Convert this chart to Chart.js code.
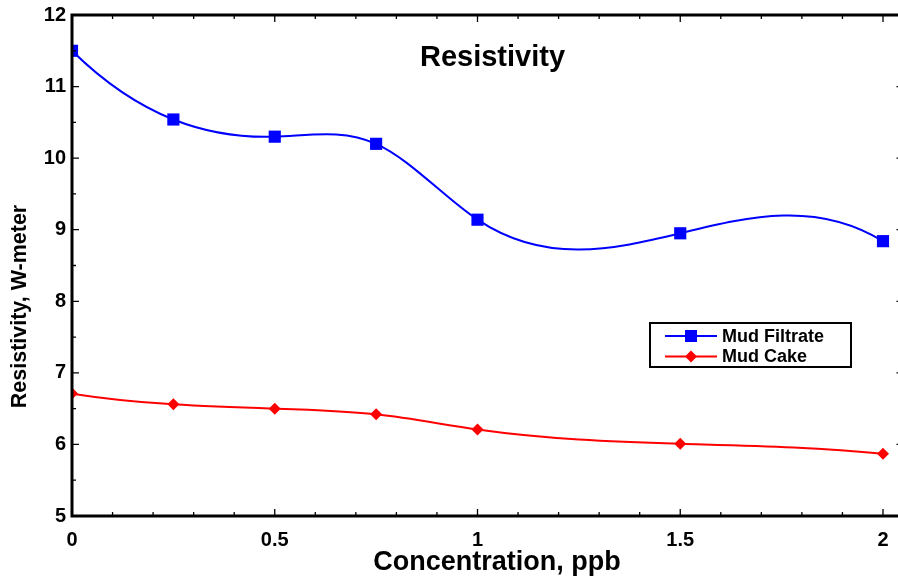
<!DOCTYPE html>
<html>
<head>
<meta charset="utf-8">
<script src="https://cdn.jsdelivr.net/npm/chart.js@4.4.0/dist/chart.umd.min.js"></script>
<style>
  html, body { margin: 0; padding: 0; background: #ffffff; }
  #wrap { position: relative; width: 898px; height: 579px; }
</style>
</head>
<body>
<div id="wrap"><canvas id="chart" width="898" height="579"></canvas></div>
<script>
// ---------------- data ----------------
const concentration = [0, 0.25, 0.5, 0.75, 1, 1.5, 2];
const mudFiltrate   = [11.50, 10.54, 10.30, 10.20, 9.14, 8.95, 8.84];
const mudCake       = [6.71, 6.56, 6.50, 6.42, 6.21, 6.01, 5.87];
const seriesNames   = ['Mud Filtrate', 'Mud Cake'];
const xTickLabels   = [0, 0.5, 1, 1.5, 2];
const yTickLabels   = [5, 6, 7, 8, 9, 10, 11, 12];
const chartTitle    = 'Resistivity';
const xAxisTitle    = 'Concentration, ppb';
const yAxisTitle    = 'Resistivity, W-meter';

const FONT = "'Liberation Sans', Arial, sans-serif";

// cubic spline ("not-a-knot" ends) through the points: sets the bezier control points of the library's line
function solveLinear(A, b) {
  const n = b.length;
  for (let col = 0; col < n; col++) {
    let piv = col;
    for (let r = col + 1; r < n; r++) if (Math.abs(A[r][col]) > Math.abs(A[piv][col])) piv = r;
    [A[col], A[piv]] = [A[piv], A[col]];
    [b[col], b[piv]] = [b[piv], b[col]];
    for (let r = col + 1; r < n; r++) {
      const f = A[r][col] / A[col][col];
      if (!f) continue;
      for (let k = col; k < n; k++) A[r][k] -= f * A[col][k];
      b[r] -= f * b[col];
    }
  }
  const x = new Array(n).fill(0);
  for (let r = n - 1; r >= 0; r--) {
    let s = b[r];
    for (let k = r + 1; k < n; k++) s -= A[r][k] * x[k];
    x[r] = s / A[r][r];
  }
  return x;
}

function applySpline(points) {
  const n = points.length;
  if (n < 4) return;
  const xs = points.map(p => p.x), ys = points.map(p => p.y);
  const h = [];
  for (let i = 0; i < n - 1; i++) h.push(xs[i + 1] - xs[i]);
  const A = [], rhs = [];
  for (let i = 0; i < n; i++) { A.push(new Array(n).fill(0)); rhs.push(0); }
  A[0][0] = -h[1]; A[0][1] = h[0] + h[1]; A[0][2] = -h[0];
  for (let i = 1; i < n - 1; i++) {
    A[i][i - 1] = h[i - 1]; A[i][i] = 2 * (h[i - 1] + h[i]); A[i][i + 1] = h[i];
    rhs[i] = 6 * ((ys[i + 1] - ys[i]) / h[i] - (ys[i] - ys[i - 1]) / h[i - 1]);
  }
  A[n - 1][n - 3] = -h[n - 2]; A[n - 1][n - 2] = h[n - 3] + h[n - 2]; A[n - 1][n - 1] = -h[n - 3];
  const M = solveLinear(A, rhs);
  const slope = new Array(n);
  for (let i = 0; i < n - 1; i++) slope[i] = (ys[i + 1] - ys[i]) / h[i] - h[i] * (2 * M[i] + M[i + 1]) / 6;
  slope[n - 1] = (ys[n - 1] - ys[n - 2]) / h[n - 2] + h[n - 2] * (M[n - 2] + 2 * M[n - 1]) / 6;
  for (let i = 0; i < n; i++) {
    const p = points[i];
    p.cp1x = p.x; p.cp1y = p.y; p.cp2x = p.x; p.cp2y = p.y;
    if (i < n - 1) { const t = h[i] / 3; p.cp2x = xs[i] + t; p.cp2y = ys[i] + slope[i] * t; }
    if (i > 0) { const t = h[i - 1] / 3; p.cp1x = xs[i] - t; p.cp1y = ys[i] - slope[i] * t; }
  }
}

const splinePlugin = {
  id: 'cubicSpline',
  beforeDatasetDraw(chart, args) {
    const meta = args.meta;
    applySpline(meta.data);
    meta.dataset._pointsUpdated = true;
  }
};

const framePlugin = {
  id: 'frame',
  afterDatasetsDraw(chart) {
    const { ctx, chartArea: ca, scales } = chart;
    const xs = scales.x, ys = scales.y;
    ctx.save();
    ctx.strokeStyle = '#000';
    ctx.lineWidth = 1.3;
    ctx.beginPath();
    const xFirst = xTickLabels[0], xLast = xTickLabels[xTickLabels.length - 1];
    for (let k = 0; k <= Math.round((xLast - xFirst) / 0.1); k++) {
      const v = xFirst + k * 0.1;
      const px = xs.getPixelForValue(v);
      const len = (k % 5 === 0) ? 7 : 4;
      ctx.moveTo(px, ca.bottom); ctx.lineTo(px, ca.bottom - len);
      ctx.moveTo(px, ca.top); ctx.lineTo(px, ca.top + len);
    }
    const yFirst = yTickLabels[0], yLast = yTickLabels[yTickLabels.length - 1];
    for (let k = 0; k <= Math.round((yLast - yFirst) / 0.5); k++) {
      const v = yFirst + k * 0.5;
      const py = ys.getPixelForValue(v);
      const len = (k % 2 === 0) ? 7 : 4;
      ctx.moveTo(ca.left, py); ctx.lineTo(ca.left + len, py);
      if (k % 2 === 0) { ctx.moveTo(ca.right, py); ctx.lineTo(ca.right - 1.5, py); }
    }
    ctx.stroke();
    ctx.lineWidth = 3;
    ctx.lineJoin = 'miter';
    ctx.beginPath();
    ctx.moveTo(ca.right + 2, ca.top);
    ctx.lineTo(ca.left, ca.top);
    ctx.lineTo(ca.left, ca.bottom);
    ctx.lineTo(ca.right + 2, ca.bottom);
    ctx.stroke();
    ctx.restore();
  },
  afterDraw(chart) {
    const { ctx } = chart;
    ctx.save();
    ctx.fillStyle = '#000';
    ctx.font = `bold 29px ${FONT}`;
    ctx.textAlign = 'center';
    ctx.textBaseline = 'alphabetic';
    ctx.fillText(chartTitle, 492.5, 66);
    ctx.font = `bold 27px ${FONT}`;
    ctx.fillText(xAxisTitle, 497, 570);
    ctx.save();
    ctx.translate(26, 306.5);
    ctx.rotate(-Math.PI / 2);
    ctx.font = `bold 21.5px ${FONT}`;
    ctx.fillText(yAxisTitle, 0, 0);
    ctx.restore();
    // legend
    const bx = 650, by = 323, bw = 201, bh = 44;
    ctx.fillStyle = '#fff';
    ctx.fillRect(bx, by, bw, bh);
    ctx.strokeStyle = '#000';
    ctx.lineWidth = 2;
    ctx.strokeRect(bx, by, bw, bh);
    const rows = [
      { name: seriesNames[0], color: '#0000ff', style: 'rect', y: 336 },
      { name: seriesNames[1], color: '#ff0000', style: 'diamond', y: 356.5 }
    ];
    rows.forEach(r => {
      ctx.strokeStyle = r.color;
      ctx.lineWidth = 2;
      ctx.beginPath();
      ctx.moveTo(665, r.y); ctx.lineTo(717, r.y);
      ctx.stroke();
      ctx.fillStyle = r.color;
      ctx.beginPath();
      if (r.style === 'rect') {
        ctx.rect(691 - 6, r.y - 6, 12, 12);
      } else {
        ctx.moveTo(691, r.y - 6); ctx.lineTo(697, r.y); ctx.lineTo(691, r.y + 6); ctx.lineTo(685, r.y);
        ctx.closePath();
      }
      ctx.fill();
      ctx.fillStyle = '#000';
      ctx.font = `bold 18px ${FONT}`;
      ctx.textAlign = 'left';
      ctx.textBaseline = 'middle';
      ctx.fillText(r.name, 722, r.y + 1);
    });
    ctx.restore();
  }
};

const ctx = document.getElementById('chart').getContext('2d');
new Chart(ctx, {
  type: 'line',
  data: {
    datasets: [
      {
        label: seriesNames[0],
        data: concentration.map((x, i) => ({ x, y: mudFiltrate[i] })),
        borderColor: '#0000ff',
        backgroundColor: '#0000ff',
        borderWidth: 2,
        pointStyle: 'rect',
        pointRadius: 8.6,
        pointBorderWidth: 0,
        tension: 0.4,
        fill: false
      },
      {
        label: seriesNames[1],
        data: concentration.map((x, i) => ({ x, y: mudCake[i] })),
        borderColor: '#ff0000',
        backgroundColor: '#ff0000',
        borderWidth: 2,
        pointStyle: 'rectRot',
        pointRadius: 6,
        pointBorderWidth: 0,
        tension: 0.4,
        fill: false
      }
    ]
  },
  options: {
    responsive: false,
    animation: false,
    events: [],
    layout: { autoPadding: false, padding: { top: 15, right: 0, bottom: 0, left: 0 } },
    plugins: { legend: { display: false }, title: { display: false }, tooltip: { enabled: false } },
    scales: {
      x: {
        type: 'linear',
        min: 0,
        max: 2.037,
        grid: { display: false, drawTicks: false },
        border: { display: false },
        afterBuildTicks: (scale) => { scale.ticks = xTickLabels.map(v => ({ value: v })); },
        afterFit: (scale) => { scale.height = 63; scale.paddingLeft = 0; scale.paddingRight = 0; },
        ticks: {
          autoSkip: false, maxRotation: 0, minRotation: 0,
          padding: 12,
          color: '#000',
          font: { family: FONT, size: 20, weight: 'bold' },
          callback: (v) => String(v)
        }
      },
      y: {
        type: 'linear',
        min: 5,
        max: 12,
        grid: { display: false, drawTicks: false },
        border: { display: false },
        afterBuildTicks: (scale) => { scale.ticks = yTickLabels.map(v => ({ value: v })); },
        afterFit: (scale) => { scale.width = 72; scale.paddingTop = 0; scale.paddingBottom = 0; },
        ticks: {
          autoSkip: false,
          padding: 6,
          color: '#000',
          font: { family: FONT, size: 20, weight: 'bold' },
          callback: (v) => String(v)
        }
      }
    }
  },
  plugins: [splinePlugin, framePlugin]
});
</script>
</body>
</html>
